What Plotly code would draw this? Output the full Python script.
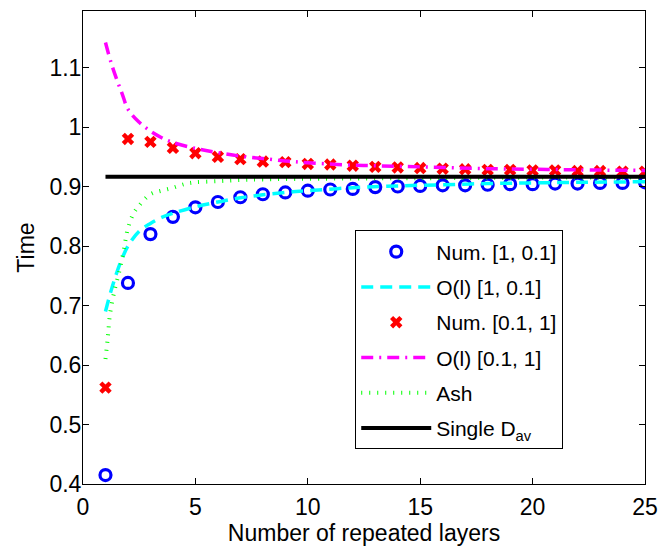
import plotly.graph_objects as go

# Discrete simulations
layers = list(range(1, 26))
num_1_01 = [0.415, 0.738, 0.820, 0.849, 0.865, 0.874, 0.882, 0.887, 0.890, 0.893,
            0.895, 0.896, 0.899, 0.900, 0.901, 0.902, 0.902, 0.903, 0.904, 0.904,
            0.905, 0.905, 0.906, 0.906, 0.907]
num_01_1 = [0.562, 0.980, 0.975, 0.965, 0.956, 0.950, 0.946, 0.942, 0.941, 0.938,
            0.937, 0.935, 0.933, 0.932, 0.931, 0.930, 0.929, 0.928, 0.928, 0.927,
            0.927, 0.926, 0.926, 0.925, 0.925]

# Continuous curves
ol_1_01_x = [1, 1.25, 1.5, 1.75, 2, 2.5, 3, 3.5, 4, 5, 6, 7, 8, 9, 10, 12, 14, 16, 18, 20, 22, 25]
ol_1_01_y = [0.690, 0.725, 0.755, 0.780, 0.800, 0.825, 0.838, 0.848, 0.855, 0.866, 0.874,
             0.881, 0.886, 0.890, 0.893, 0.898, 0.901, 0.903, 0.905, 0.906, 0.907, 0.908]

ol_01_1_x = [1, 1.25, 1.5, 1.75, 2, 2.5, 3, 3.5, 4, 5, 6, 7, 8, 9, 10, 12, 14, 16, 18, 20, 22, 25]
ol_01_1_y = [1.142, 1.108, 1.080, 1.055, 1.030, 1.008, 0.993, 0.982, 0.974, 0.964, 0.957,
             0.951, 0.947, 0.943, 0.940, 0.936, 0.934, 0.932, 0.930, 0.929, 0.928, 0.927]

ash_x = [1, 1.1, 1.2, 1.4, 1.6, 1.8, 2, 2.25, 2.5, 3, 3.5, 4, 4.5, 5, 6, 7, 8, 10, 15, 20, 25]
ash_y = [0.610, 0.645, 0.685, 0.725, 0.755, 0.790, 0.830, 0.855, 0.868, 0.887, 0.893,
         0.898, 0.904, 0.907, 0.909, 0.911, 0.912, 0.913, 0.914, 0.915, 0.915]

single_x = [1, 25]
single_y = [0.9165, 0.9165]

x_ticks = [0, 5, 10, 15, 20, 25]
y_ticks = [0.4, 0.5, 0.6, 0.7, 0.8, 0.9, 1.0, 1.1]
y_tick_labels = ["0.4", "0.5", "0.6", "0.7", "0.8", "0.9", "1", "1.1"]

FONT = "Liberation Sans, Arial, sans-serif"

fig = go.Figure()
fig.add_trace(go.Scatter(x=layers, y=num_1_01, mode="markers", name="Num. [1, 0.1]",
                         legendgroup="a",
                         marker=dict(symbol="circle-open", size=11, color="#0000ff",
                                     line=dict(width=3.2, color="#0000ff"))))
fig.add_trace(go.Scatter(x=ol_1_01_x, y=ol_1_01_y, mode="lines", name="O(l) [1, 0.1]",
                         legendgroup="b", line_shape="spline",
                         line=dict(color="#00ffff", width=3.5, dash="12px,7px")))
fig.add_trace(go.Scatter(x=layers, y=num_01_1, mode="markers", name="Num. [0.1, 1]",
                         legendgroup="c",
                         marker=dict(symbol="x", size=11, color="#ff0000",
                                     line=dict(width=0))))
fig.add_trace(go.Scatter(x=ol_01_1_x, y=ol_01_1_y, mode="lines", name="O(l) [0.1, 1]",
                         legendgroup="d", line_shape="spline",
                         line=dict(color="#ff00ff", width=3.5, dash="12px,6px,2px,6px")))
fig.add_trace(go.Scatter(x=ash_x, y=ash_y, mode="lines", name="Ash",
                         legendgroup="e", line_shape="spline",
                         line=dict(color="#00ff00", width=4, dash="1px,7px")))
fig.add_trace(go.Scatter(x=single_x, y=single_y, mode="lines", name="Single D<sub>av</sub>",
                         legendgroup="f",
                         line=dict(color="#000000", width=4)))

axis_common = dict(showline=True, linecolor="black", linewidth=1, mirror="ticks",
                   ticks="inside", ticklen=6, tickcolor="black", showgrid=False,
                   zeroline=False, tickfont=dict(family=FONT, size=23, color="black"))

fig.update_layout(
    width=664, height=539,
    margin=dict(l=74.5, r=27, t=3, b=63),
    plot_bgcolor="white", paper_bgcolor="white",
    font=dict(family=FONT, size=23, color="black"),
    xaxis=dict(range=[0, 25], tickvals=x_ticks, ticklabelstandoff=2,
               title=dict(text="Number of repeated layers", font=dict(size=23), standoff=4),
               **axis_common),
    yaxis=dict(range=[0.4, 1.195], tickvals=y_ticks, ticktext=y_tick_labels,
               ticklabelstandoff=-4,
               title=dict(text="Time", font=dict(size=23), standoff=8),
               **axis_common),
    legend=dict(x=0.4844, y=0.536, xanchor="left", yanchor="top",
                bgcolor="white", bordercolor="black", borderwidth=1,
                font=dict(family=FONT, size=21, color="black"),
                traceorder="grouped", tracegroupgap=5, itemwidth=70),
    showlegend=True,
)

fig.write_html("out.html")
